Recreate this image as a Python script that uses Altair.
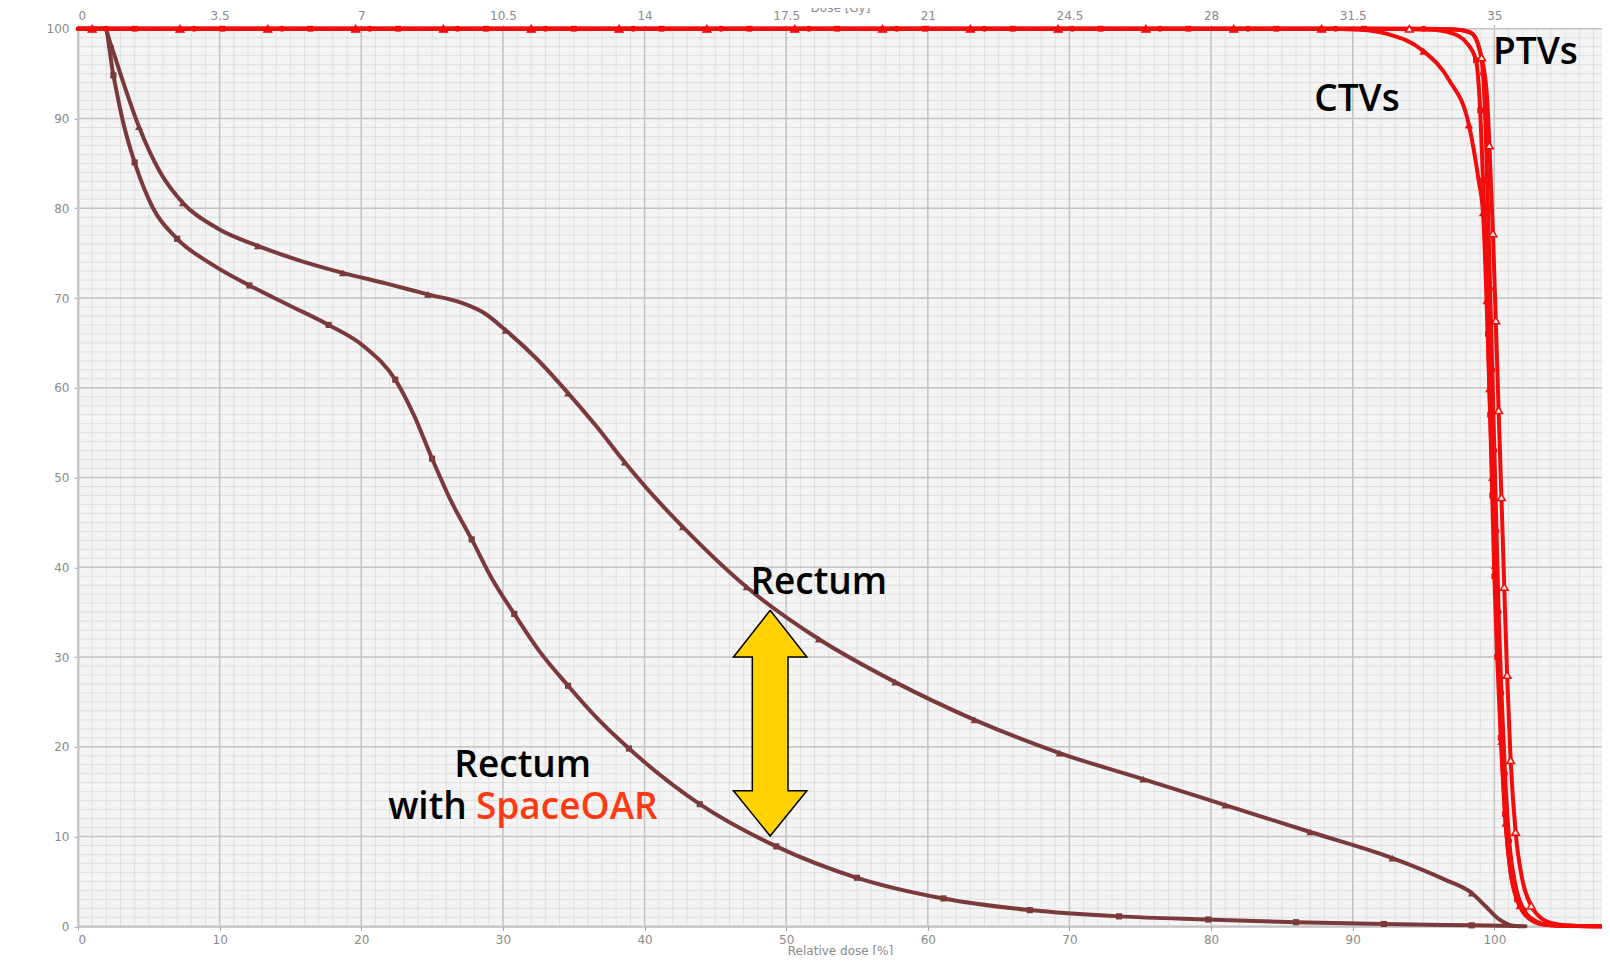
import altair as alt
import pandas as pd

XMAX = 107.6

# ---------------- data ----------------
# Rectum (triangles)
rectum_x = [0, 1.9, 2.3, 3.2, 4.3, 5.8, 7.4, 9.8, 12.7, 15.6, 18.7, 21.8, 24.7, 27.2, 28.7, 30.2, 32.4, 34.6,
            36.6, 38.6, 40.6, 42.7, 47.2, 52.3, 57.7, 63.3, 69.3, 75.2, 81.0, 87.0, 92.8, 96.5, 98.4, 99.4,
            100.4, 101.2, 101.8]
rectum_y = [100, 100, 98.3, 94.0, 89.1, 84.0, 80.6, 77.8, 75.8, 74.2, 72.8, 71.6, 70.4, 69.4, 68.3, 66.4, 63.2, 59.4,
            55.7, 51.7, 48.0, 44.5, 37.8, 32.0, 27.2, 23.0, 19.3, 16.4, 13.5, 10.5, 7.6, 5.2, 3.7, 2.2,
            0.7, 0.1, 0]
rectum_m = [0, 0, 1, 0, 1, 0, 1, 0, 1, 0, 1, 0, 1, 0, 0, 1, 0, 1,
            0, 1, 0, 1, 1, 1, 1, 1, 1, 1, 1, 1, 1, 0, 1, 0,
            0, 0, 0]

# Rectum with SpaceOAR (squares)
spacer_x = [0, 1.9, 2.5, 3.2, 4.0, 5.3, 7.0, 9.4, 12.1, 14.9, 17.7, 20.2, 22.4, 23.7, 25.0, 26.3, 27.8, 29.2,
            30.8, 32.6, 34.6, 36.7, 38.9, 43.9, 49.3, 55.0, 61.1, 67.2, 73.5, 79.8, 86.0, 92.2, 98.4, 101.5, 102.2]
spacer_y = [100, 100, 94.8, 89.5, 85.1, 80.0, 76.6, 73.8, 71.4, 69.2, 67.0, 64.6, 60.9, 57.0, 52.1, 47.5, 43.1, 38.8,
            34.8, 30.6, 26.8, 23.1, 19.8, 13.6, 8.9, 5.4, 3.1, 1.8, 1.1, 0.75, 0.45, 0.25, 0.1, 0.02, 0]
spacer_m = [0, 0, 1, 0, 1, 0, 1, 0, 1, 0, 1, 0, 1, 0, 1, 0, 1, 0,
            1, 0, 1, 0, 1, 1, 1, 1, 1, 1, 1, 1, 1, 1, 1, 0, 0]

# CTV A (filled triangles)
ctva_x = [0, 1.0, 7.2, 13.4, 19.6, 25.8, 32.0, 38.2, 44.4, 50.6, 56.8, 63.0, 69.2, 75.4, 81.6, 87.8,
          90.5, 92.5, 95.0, 96.8, 98.2, 98.9, 99.2, 99.45, 99.65, 99.85, 100.05, 100.25, 100.5, 100.8,
          101.2, 101.8, 102.6, 103.6, 107.6]
ctva_y = [100, 100, 100, 100, 100, 100, 100, 100, 100, 100, 100, 100, 100, 100, 100, 100,
          99.9, 99.4, 97.5, 94.3, 89.3, 83.0, 79.5, 69.7, 59.9, 50.0, 40.2, 30.4, 20.6, 11.5,
          5.5, 2.3, 0.7, 0.15, 0]
ctva_m = [0, 1, 1, 1, 1, 1, 1, 1, 1, 1, 1, 1, 1, 1, 1, 1,
          0, 0, 1, 0, 1, 0, 1, 1, 1, 1, 1, 1, 1, 1,
          0, 1, 0, 0, 0]

# CTV B (squares)
ctvb_x = [0, 4.0, 10.2, 16.4, 22.6, 28.8, 35.0, 41.2, 47.4, 53.6, 59.8, 66.0, 72.2, 78.4, 84.6, 90.8,
          95.5, 97.0, 98.0, 98.7, 99.0, 99.2, 99.4, 99.55, 99.7, 99.85, 100.0, 100.2, 100.45, 100.75,
          101.1, 101.6, 102.3, 103.2, 104.5, 107.6]
ctvb_y = [100, 100, 100, 100, 100, 100, 100, 100, 100, 100, 100, 100, 100, 100, 100, 100,
          99.9, 99.5, 98.5, 96.5, 90.9, 83.1, 75.0, 66.0, 57.0, 48.0, 39.0, 30.0, 21.0, 12.5,
          6.5, 3.0, 1.1, 0.3, 0.05, 0]
ctvb_m = [0, 1, 1, 1, 1, 1, 1, 1, 1, 1, 1, 1, 1, 1, 1, 1,
          0, 0, 0, 1, 1, 1, 0, 1, 1, 1, 1, 1, 1, 1,
          0, 1, 0, 0, 0, 0]

# PTV A (hollow triangles)
ptva_x = [0, 1.0, 7.2, 13.4, 19.6, 25.8, 32.0, 38.2, 44.4, 50.6, 56.8, 63.0, 69.2, 75.4, 81.6, 87.8,
          94.0, 97.0, 98.3, 99.1, 99.5, 99.65, 99.9, 100.1, 100.3, 100.5, 100.7, 100.9, 101.15, 101.5,
          102.0, 102.6, 103.4, 104.5, 105.5, 107.6]
ptva_y = [100, 100, 100, 100, 100, 100, 100, 100, 100, 100, 100, 100, 100, 100, 100, 100,
          100, 99.95, 99.6, 96.8, 92.0, 87.0, 77.2, 67.5, 57.5, 47.8, 37.8, 28.0, 18.5, 10.5,
          5.0, 2.3, 0.8, 0.2, 0.05, 0]
ptva_m = [0, 1, 1, 1, 1, 1, 1, 1, 1, 1, 1, 1, 1, 1, 1, 1,
          1, 0, 0, 1, 0, 1, 1, 1, 1, 1, 1, 1, 1, 1,
          0, 1, 0, 0, 0, 0]

# PTV B (dots)
ptvb_x = [0, 2.0, 8.2, 14.4, 20.6, 26.8, 33.0, 39.2, 45.4, 51.6, 57.8, 64.0, 70.2, 76.4, 82.6, 88.8, 95.0,
          97.5, 98.4, 98.9, 99.2, 99.4, 99.55, 99.7, 99.85, 100.0, 100.15, 100.3, 100.5, 100.75, 101.05,
          101.5, 102.1, 102.9, 103.8, 107.6]
ptvb_y = [100, 100, 100, 100, 100, 100, 100, 100, 100, 100, 100, 100, 100, 100, 100, 100, 100,
          99.9, 99.5, 98.0, 95.0, 88.0, 80.0, 71.0, 62.0, 53.0, 44.0, 35.0, 26.0, 17.0, 9.5,
          4.5, 1.8, 0.6, 0.15, 0]
ptvb_m = [0, 1, 1, 1, 1, 1, 1, 1, 1, 1, 1, 1, 1, 1, 1, 1, 1,
          0, 0, 0, 1, 0, 1, 1, 1, 1, 1, 1, 1, 1, 1,
          0, 1, 0, 0, 0]

# tick values
pct_ticks = [0, 10, 20, 30, 40, 50, 60, 70, 80, 90, 100]
minor_x = list(range(0, 108))
minor_y = list(range(0, 101))

# annotations
ann_text = ["PTVs", "CTVs", "Rectum", "Rectum"]
ann_x = [102.9, 90.3, 52.3, 31.4]
ann_y = [97.3, 92.1, 38.2, 17.9]

with_text = ["with"]
with_x = [21.9]
with_y = [13.2]
oar_text = ["SpaceOAR"]
oar_x = [28.1]
oar_y = [13.2]

# yellow double arrow (dose %, volume %)
arrow_cx = 48.87
arrow_head_half = 2.59
arrow_shaft_half = 1.26
arrow_top = 35.2
arrow_top_base = 30.0
arrow_bot_base = 15.1
arrow_bot = 10.05

# ---------------- build frames ----------------
def frame(name, xs, ys, ms):
    return pd.DataFrame({"series": name, "x": xs, "y": ys, "m": ms, "i": list(range(len(xs)))})

brown = "#7a3a3a"
red = "#f20c0c"

rect_df = pd.concat([frame("Rectum", rectum_x, rectum_y, rectum_m),
                     frame("Rectum SpaceOAR", spacer_x, spacer_y, spacer_m)])
red_df = pd.concat([frame("CTV A", ctva_x, ctva_y, ctva_m),
                    frame("CTV B", ctvb_x, ctvb_y, ctvb_m),
                    frame("PTV A", ptva_x, ptva_y, ptva_m),
                    frame("PTV B", ptvb_x, ptvb_y, ptvb_m)])

xs = alt.Scale(domain=[0, XMAX], nice=False, zero=False)
ys = alt.Scale(domain=[0, 100], nice=False, zero=False)


def X(f="x", axis=None):
    return alt.X(f, type="quantitative", scale=xs, axis=axis)


def Y(f="y", axis=None):
    return alt.Y(f, type="quantitative", scale=ys, axis=axis)


FONT_AX = "DejaVu Sans"
AX_COL = "#8a8a8a"

bottom_axis = alt.Axis(values=pct_ticks, grid=False, domainColor="#a0a0a0", domainWidth=1.5,
                       tickColor="#a0a0a0", tickSize=4, labelColor=AX_COL, labelFont=FONT_AX,
                       labelFontSize=12, labelPadding=4, title="Relative dose [%]",
                       titleFont=FONT_AX, titleFontSize=12, titleColor=AX_COL,
                       titleFontWeight="normal", titleY=28.5, titleBaseline="alphabetic")
left_axis = alt.Axis(values=pct_ticks, grid=False, domainColor="#a0a0a0", domainWidth=1.5,
                     tickColor="#a0a0a0", tickSize=4, labelColor=AX_COL, labelFont=FONT_AX,
                     labelFontSize=12, labelPadding=5, title=None)
top_axis = alt.Axis(orient="top", values=pct_ticks, grid=False, domain=False,
                    tickColor="#a0a0a0", tickSize=4, labelColor=AX_COL, labelFont=FONT_AX,
                    labelFontSize=12, labelPadding=2,
                    labelExpr="format(datum.value * 0.35, '.1~f')",
                    title="Dose [Gy]", titleFont=FONT_AX, titleFontSize=12, titleColor=AX_COL,
                    titleFontWeight="normal", titleY=-17.5, titleBaseline="alphabetic")

# grid
minor_v = alt.Chart(pd.DataFrame({"x": minor_x})).mark_rule(color="#e0e0e0", strokeWidth=1).encode(x=X())
minor_h = alt.Chart(pd.DataFrame({"y": minor_y})).mark_rule(color="#e0e0e0", strokeWidth=1).encode(y=Y())
major_v = alt.Chart(pd.DataFrame({"x": pct_ticks})).mark_rule(color="#c4c4c4", strokeWidth=1.5).encode(x=X())
major_h = alt.Chart(pd.DataFrame({"y": pct_ticks})).mark_rule(color="#c4c4c4", strokeWidth=1.5).encode(y=Y())

# rectum curves
rect_lines = alt.Chart(rect_df).mark_line(interpolate="monotone", strokeWidth=4, color=brown,
                                          strokeCap="round").encode(
    x=X(axis=bottom_axis), y=Y(axis=left_axis), detail="series:N", order="i:Q")
rect_tri = alt.Chart(rect_df).transform_filter(
    "datum.m == 1 && datum.series == 'Rectum'").mark_point(
    shape="triangle-up", filled=True, size=60, color=brown, opacity=1).encode(x=X(), y=Y())
rect_sq = alt.Chart(rect_df).transform_filter(
    "datum.m == 1 && datum.series == 'Rectum SpaceOAR'").mark_point(
    shape="square", filled=True, size=38, color=brown, opacity=1).encode(x=X(), y=Y())

# red curves
red_lines = alt.Chart(red_df).mark_line(interpolate="monotone", strokeWidth=4, color=red,
                                        strokeCap="round").encode(
    x=X(axis=top_axis), y=Y(), detail="series:N", order="i:Q")
red_hollow = alt.Chart(red_df).transform_filter(
    "datum.m == 1 && datum.series == 'PTV A'").mark_point(
    shape="triangle-up", filled=True, size=60, fill="#ffe4e4", stroke=red, strokeWidth=1.5,
    opacity=1).encode(x=X(), y=Y())
red_tri = alt.Chart(red_df).transform_filter(
    "datum.m == 1 && datum.series == 'CTV A'").mark_point(
    shape="triangle-up", filled=True, size=70, color=red, opacity=1).encode(x=X(), y=Y())
red_sq = alt.Chart(red_df).transform_filter(
    "datum.m == 1 && datum.series == 'CTV B'").mark_point(
    shape="square", filled=True, size=34, color=red, opacity=1).encode(x=X(), y=Y())
red_dot = alt.Chart(red_df).transform_filter(
    "datum.m == 1 && datum.series == 'PTV B'").mark_point(
    shape="circle", filled=True, size=34, color=red, opacity=1).encode(x=X(), y=Y())

# arrow: fill pieces + outline
yellow = "#FFD200"
head_df = pd.DataFrame({
    "part": ["up", "up", "up", "down", "down", "down"],
    "x": [arrow_cx - arrow_head_half, arrow_cx, arrow_cx + arrow_head_half] * 2,
    "y": [arrow_top_base, arrow_top, arrow_top_base, arrow_bot_base, arrow_bot, arrow_bot_base],
    "y2": [arrow_top_base, arrow_top_base, arrow_top_base, arrow_bot_base, arrow_bot_base, arrow_bot_base],
})
heads = alt.Chart(head_df).mark_area(interpolate="linear", color=yellow, opacity=1).encode(
    x=X(), y=Y(), y2="y2:Q", detail="part:N")
shaft_df = pd.DataFrame({"x": [arrow_cx - arrow_shaft_half], "x2": [arrow_cx + arrow_shaft_half],
                         "y": [arrow_bot_base - 0.2], "y2": [arrow_top_base + 0.2]})
shaft = alt.Chart(shaft_df).mark_rect(color=yellow, opacity=1).encode(
    x=X(), x2="x2:Q", y=Y(), y2="y2:Q")
outline_df = pd.DataFrame({
    "x": [arrow_cx, arrow_cx + arrow_head_half, arrow_cx + arrow_shaft_half, arrow_cx + arrow_shaft_half,
          arrow_cx + arrow_head_half, arrow_cx, arrow_cx - arrow_head_half, arrow_cx - arrow_shaft_half,
          arrow_cx - arrow_shaft_half, arrow_cx - arrow_head_half, arrow_cx],
    "y": [arrow_top, arrow_top_base, arrow_top_base, arrow_bot_base, arrow_bot_base, arrow_bot,
          arrow_bot_base, arrow_bot_base, arrow_top_base, arrow_top_base, arrow_top],
    "i": list(range(11)),
})
outline = alt.Chart(outline_df).mark_line(color="black", strokeWidth=1.5, strokeJoin="miter",
                                          interpolate="linear").encode(x=X(), y=Y(), order="i:Q")

# texts
TXT = dict(font="Open Sans", fontSize=37, fontWeight=600, baseline="middle")
ann = alt.Chart(pd.DataFrame({"t": ann_text, "x": ann_x, "y": ann_y})).mark_text(
    color="black", align="center", **TXT).encode(x=X(), y=Y(), text="t:N")
with_t = alt.Chart(pd.DataFrame({"t": with_text, "x": with_x, "y": with_y})).mark_text(
    color="black", align="left", **TXT).encode(x=X(), y=Y(), text="t:N")
oar_t = alt.Chart(pd.DataFrame({"t": oar_text, "x": oar_x, "y": oar_y})).mark_text(
    color="#ff3a12", align="left", **TXT).encode(x=X(), y=Y(), text="t:N")

chart = alt.layer(
    minor_v, minor_h, major_v, major_h,
    rect_lines, rect_tri, rect_sq,
    red_lines, red_hollow, red_tri, red_sq, red_dot,
    heads, shaft, outline, ann, with_t, oar_t,
).resolve_axis(x="independent", y="independent").properties(
    width=1524, height=897.5,
    autosize=alt.AutoSizeParams(type="none"),
    padding={"left": 70, "top": 20.75, "right": 0, "bottom": 28.75},
    background="white",
).configure_view(fill="#f4f4f4", strokeWidth=0)

chart.save("out.html", embed_options={"renderer": "svg", "actions": False})
